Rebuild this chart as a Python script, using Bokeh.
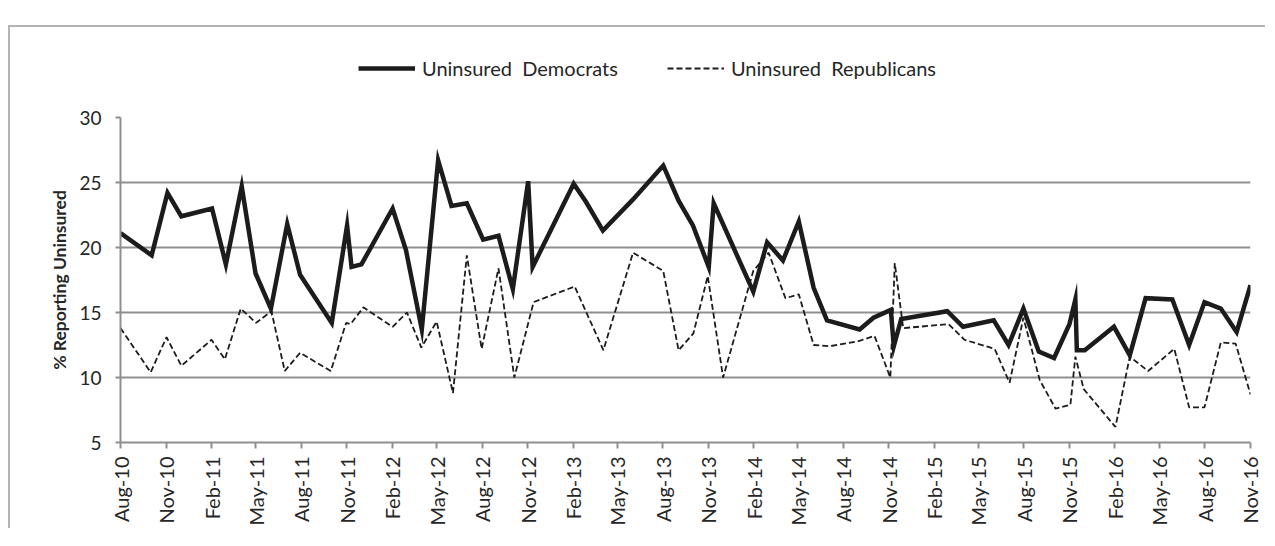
import pandas as pd
from bokeh.plotting import figure
from bokeh.layouts import column
from bokeh.models import (Range1d, FixedTicker, DatetimeTickFormatter, Legend, LegendItem)
from bokeh.embed import file_html
from bokeh.resources import INLINE

# ---- data ----
dem_dates = ["2010-08-01", "2010-10-03", "2010-11-04", "2010-12-02", "2011-02-02", "2011-03-02",
             "2011-04-03", "2011-05-01", "2011-06-01", "2011-07-04", "2011-07-30", "2011-10-02",
             "2011-11-02", "2011-11-11", "2011-12-01", "2012-02-02", "2012-02-29", "2012-04-01",
             "2012-05-04", "2012-05-31", "2012-07-01", "2012-08-03", "2012-09-03", "2012-10-02",
             "2012-11-02", "2012-11-11", "2013-02-02", "2013-02-27", "2013-04-02", "2013-06-02",
             "2013-08-02", "2013-09-02", "2013-10-01", "2013-11-02", "2013-11-12", "2014-01-31",
             "2014-02-28", "2014-04-01", "2014-05-03", "2014-06-02", "2014-06-29", "2014-09-03",
             "2014-10-01", "2014-11-05", "2014-11-11", "2014-11-26", "2015-02-27", "2015-03-31",
             "2015-06-01", "2015-07-01", "2015-07-31", "2015-08-31", "2015-10-01", "2015-11-01",
             "2015-11-13", "2015-11-16", "2015-12-02", "2016-01-30", "2016-03-02", "2016-04-03",
             "2016-05-27", "2016-06-30", "2016-07-31", "2016-09-02", "2016-10-04", "2016-11-01"]
dem_values = [21.1, 19.4, 24.2, 22.4, 23.0, 18.7,
              24.7, 18.0, 15.3, 21.8, 17.9, 14.2,
              21.7, 18.5, 18.7, 23.0, 19.8, 13.7,
              26.7, 23.2, 23.4, 20.6, 20.9, 16.8,
              25.1, 18.5, 24.9, 23.5, 21.3, 23.7,
              26.3, 23.6, 21.7, 18.5, 23.4, 16.6,
              20.4, 19.0, 22.0, 16.9, 14.4, 13.7,
              14.6, 15.2, 12.4, 14.5, 15.1, 13.9,
              14.4, 12.5, 15.3, 12.0, 11.5, 14.1,
              16.0, 12.1, 12.1, 13.9, 11.7, 16.1,
              16.0, 12.5, 15.8, 15.3, 13.5, 17.1]

rep_dates = ["2010-08-01", "2010-10-01", "2010-11-02", "2010-12-02", "2011-02-01", "2011-02-28",
             "2011-04-01", "2011-05-02", "2011-06-02", "2011-06-29", "2011-07-30", "2011-09-30",
             "2011-10-31", "2011-11-09", "2011-12-05", "2012-02-02", "2012-03-02", "2012-03-31",
             "2012-05-01", "2012-06-03", "2012-07-01", "2012-07-31", "2012-09-03", "2012-10-05",
             "2012-11-13", "2013-02-04", "2013-04-03", "2013-06-02", "2013-08-02", "2013-09-02",
             "2013-10-02", "2013-10-31", "2013-12-01", "2014-01-31", "2014-03-03", "2014-04-06",
             "2014-05-03", "2014-06-02", "2014-07-04", "2014-09-01", "2014-10-03", "2014-11-04",
             "2014-11-13", "2014-11-30", "2015-03-02", "2015-04-03", "2015-06-03", "2015-07-03",
             "2015-07-31", "2015-09-02", "2015-10-04", "2015-11-03", "2015-11-13", "2015-11-30",
             "2016-02-02", "2016-03-02", "2016-04-08", "2016-05-31", "2016-06-30", "2016-07-31",
             "2016-09-02", "2016-10-02", "2016-11-01"]
rep_values = [13.8, 10.4, 13.1, 10.9, 12.9, 11.4,
              15.3, 14.2, 15.1, 10.5, 11.9, 10.5,
              14.2, 14.1, 15.4, 13.9, 15.0, 12.3,
              14.3, 8.8, 19.4, 12.2, 18.4, 10.0,
              15.8, 17.0, 12.1, 19.6, 18.2, 12.1,
              13.4, 17.8, 10.0, 18.2, 19.6, 16.1,
              16.4, 12.5, 12.4, 12.8, 13.2, 10.0,
              18.8, 13.8, 14.1, 12.9, 12.2, 9.6,
              14.6, 9.8, 7.6, 7.9, 11.6, 9.1,
              6.2, 11.6, 10.5, 12.2, 7.7, 7.7,
              12.7, 12.6, 8.7]

tick_labels = ["Aug-10", "Nov-10", "Feb-11", "May-11", "Aug-11", "Nov-11", "Feb-12", "May-12",
               "Aug-12", "Nov-12", "Feb-13", "May-13", "Aug-13", "Nov-13", "Feb-14", "May-14",
               "Aug-14", "Nov-14", "Feb-15", "May-15", "Aug-15", "Nov-15", "Feb-16", "May-16",
               "Aug-16", "Nov-16"]
y_ticks = [5, 10, 15, 20, 25, 30]

series_names = ["Uninsured  Democrats", "Uninsured  Republicans"]
y_title = "% Reporting Uninsured"

# ---- build ----
FONT = "Lato"
TXT = "#262626"
GRID = "#8f8f8f"
BOX = "2px solid #b4b4b4"
DEM_STYLE = dict(line_color="#1c1c1c", line_width=4.5, line_join="miter")
REP_STYLE = dict(line_color="#1c1c1c", line_width=1.8, line_dash="6 3")

dem_x = pd.to_datetime(dem_dates)
rep_x = pd.to_datetime(rep_dates)
tick_dt = pd.to_datetime(tick_labels, format="%b-%y")
tick_ms = [t.timestamp() * 1000 for t in tick_dt]

# --- legend strip (top) ---
top = figure(width=1257, height=63, output_backend="svg", toolbar_location=None,
             x_axis_location=None, y_axis_location=None,
             x_range=Range1d(0, 1), y_range=Range1d(0, 1),
             min_border_left=0, min_border_right=0, min_border_top=0, min_border_bottom=0)
top.margin = (25, 0, 0, 8)
top.styles = {"border-top": BOX, "border-left": BOX}
top.outline_line_color = None
top.xgrid.visible = False
top.ygrid.visible = False
# legend-only renderers (no visible data)
l_dem = top.line([float("nan")], [float("nan")], **DEM_STYLE)
l_rep = top.line([float("nan")], [float("nan")], **REP_STYLE)
legend = Legend(items=[LegendItem(label=series_names[0], renderers=[l_dem]),
                       LegendItem(label=series_names[1], renderers=[l_rep])],
                orientation="horizontal", location=(238, 10),
                glyph_width=57, glyph_height=20, label_standoff=7, spacing=49,
                padding=0, margin=0, border_line_alpha=0, background_fill_alpha=0,
                label_text_font=FONT, label_text_font_size="20px", label_text_color=TXT)
top.add_layout(legend, "center")

# --- main chart ---
p = figure(width=1257, height=440, output_backend="svg", toolbar_location=None,
           x_axis_type="datetime",
           x_range=Range1d(tick_ms[0], tick_ms[-1]),
           y_range=Range1d(5, 30),
           min_border_left=110, min_border_right=17, min_border_top=29, min_border_bottom=83)
p.margin = (0, 0, 0, 8)
p.styles = {"border-left": BOX}
p.outline_line_color = None

p.line(dem_x, dem_values, **DEM_STYLE)
p.line(rep_x, rep_values, **REP_STYLE)

xa = p.xaxis[0]
xa.ticker = FixedTicker(ticks=tick_ms)
xa.formatter = DatetimeTickFormatter(days="%b-%y", months="%b-%y", years="%b-%y")
xa.major_label_orientation = 1.5707963
xa.major_label_text_font = FONT
xa.major_label_text_font_size = "20px"
xa.major_label_text_color = TXT
xa.major_label_standoff = 8
xa.axis_line_color = GRID
xa.axis_line_width = 2
xa.major_tick_line_color = GRID
xa.major_tick_line_width = 2
xa.major_tick_out = 6
xa.major_tick_in = 0
xa.minor_tick_line_color = None

ya = p.yaxis[0]
ya.ticker = FixedTicker(ticks=y_ticks)
ya.major_label_text_font = FONT
ya.major_label_text_font_size = "19px"
ya.major_label_text_color = TXT
ya.major_label_standoff = 14
ya.axis_line_color = GRID
ya.axis_line_width = 2
ya.major_tick_line_color = GRID
ya.major_tick_line_width = 2
ya.major_tick_out = 5
ya.major_tick_in = 0
ya.minor_tick_line_color = None
ya.axis_label = y_title
ya.axis_label_text_font = FONT
ya.axis_label_text_font_style = "bold"
ya.axis_label_text_font_size = "17.5px"
ya.axis_label_text_color = TXT
ya.axis_label_standoff = 6

p.xgrid.grid_line_color = None
p.ygrid.ticker = FixedTicker(ticks=y_ticks)
p.ygrid.grid_line_color = GRID
p.ygrid.grid_line_width = 2

layout = column(top, p, spacing=0)

open("out.html", "w").write(file_html(layout, INLINE))
